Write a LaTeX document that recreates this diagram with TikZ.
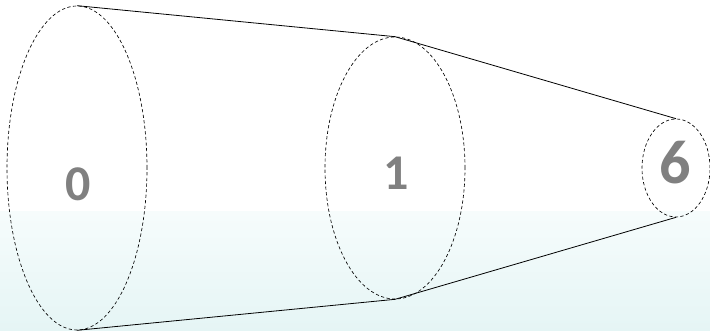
\documentclass[tikz,border=0pt]{standalone}
\usepackage{fontspec}
\setmainfont{Carlito}
\usetikzlibrary{shapes.geometric}
\definecolor{lbl}{RGB}{128,128,128}
\definecolor{bgtop}{RGB}{246,252,252}
\definecolor{bgbot}{RGB}{229,245,245}
\tikzset{
  ring/.style={ellipse, draw=black, dashed, dash pattern=on 3.2pt off 2.4pt, line width=0.65pt, inner sep=0pt},
  digit/.style={text=lbl, font=\bfseries, inner sep=0pt, anchor=center},
  edge/.style={draw=black, line width=0.8pt}
}
\begin{document}
\begin{tikzpicture}[x=1pt,y=-1pt]
\useasboundingbox (0,0) rectangle (710,331);
\fill[white] (0,0) rectangle (710,212);
\shade[top color=bgtop, bottom color=bgbot] (0,212) rectangle (710,331);
\node[ring, minimum width=140pt, minimum height=324pt] (e0) at (77,168) {};
\node[ring, minimum width=140pt, minimum height=262pt] (e1) at (395,168) {};
\node[ring, minimum width=68pt, minimum height=98pt] (e6) at (676,168) {};
\node[digit, font=\bfseries\fontsize{50}{50}\selectfont] (l0) at (78,184) {0};
\node[digit, font=\bfseries\fontsize{50}{50}\selectfont] (l1) at (396,173) {1};
\node[digit, font=\bfseries\fontsize{62}{62}\selectfont] (l6) at (675,163) {6};
\draw[edge] (e0.north) -- (e1.north) -- (e6.north);
\draw[edge] (e0.south) -- (e1.south) -- (e6.south);
\end{tikzpicture}
\end{document}
